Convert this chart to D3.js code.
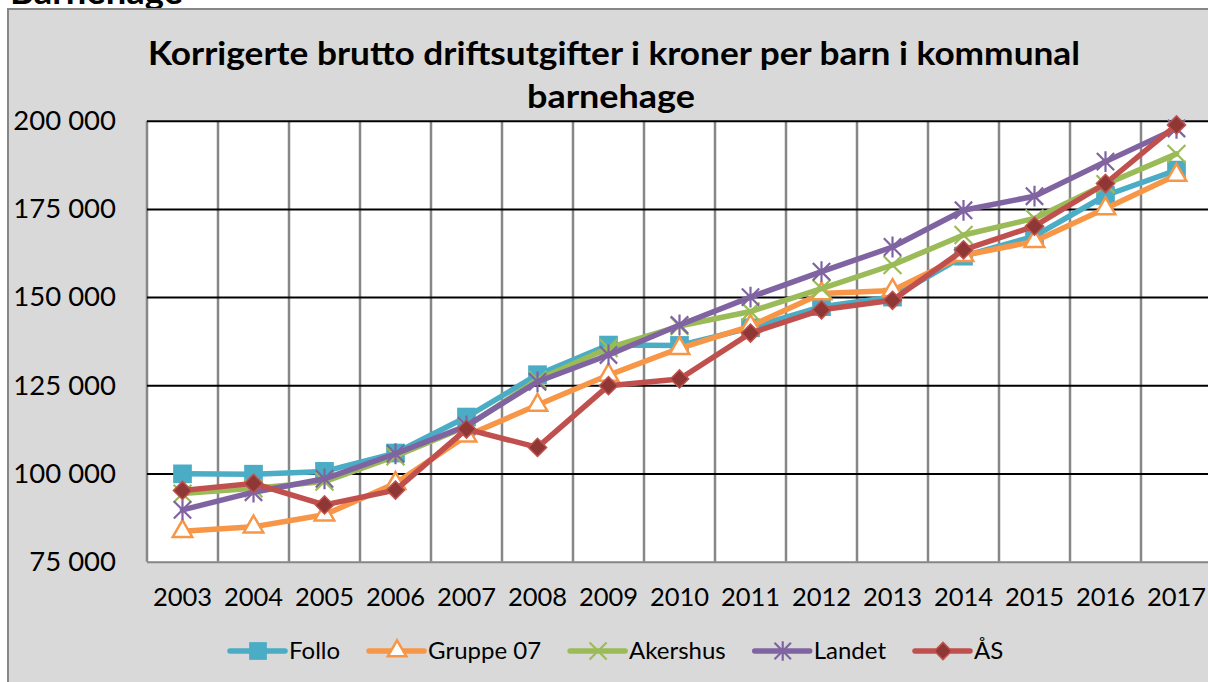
<!DOCTYPE html>
<html>
<head>
<meta charset="utf-8">
<script src="https://cdn.jsdelivr.net/npm/d3@7"></script>
<style>
  body { margin: 0; background: #fff; }
  text { font-family: Lato, "Open Sans", sans-serif; fill: #000; }
</style>
</head>
<body>
<script>
// data
const years = ["2003","2004","2005","2006","2007","2008","2009","2010","2011","2012","2013","2014","2015","2016","2017"];
const follo    = [99900, 99800, 100600, 105800, 116000, 128000, 136400, 136300, 141300, 147300, 150000, 161600, 167300, 178800, 186000];
const gruppe07 = [83600, 84900, 88300, 97200, 110700, 119400, 127900, 135500, 141800, 151000, 151900, 161800, 165800, 175100, 184600];
const akershus = [94300, 95800, 97700, 104900, 113300, 126600, 135600, 141800, 145900, 152400, 159100, 167600, 172300, 182000, 190600];
const landet   = [89700, 94700, 98500, 105600, 113500, 126000, 133600, 142100, 150000, 157200, 164200, 174600, 178600, 188400, 197800];
const aas      = [95200, 97200, 91100, 95300, 112600, 107400, 124900, 126800, 139800, 146400, 149100, 163400, 170100, 182200, 198800];
const seriesNames = ["Follo", "Gruppe 07", "Akershus", "Landet", "ÅS"];
const yTicks = [75000, 100000, 125000, 150000, 175000, 200000];
const titleLines = ["Korrigerte brutto driftsutgifter i kroner per barn i kommunal", "barnehage"];

const width = 1208, height = 682;
const plot = {left: 147, top: 120.7, bottom: 561.7, step: 71};

const svg = d3.select("body").append("svg")
  .attr("width", width)
  .attr("height", height);

// leftover heading from the page above, mostly hidden
svg.append("text")
  .attr("x", 10).attr("y", 4)
  .attr("font-size", 34).attr("font-weight", "bold")
  .attr("textLength", 173).attr("lengthAdjust", "spacingAndGlyphs")
  .text("Barnehage");

// chart area
svg.append("rect")
  .attr("x", 8).attr("y", 9)
  .attr("width", width + 20).attr("height", height + 20)
  .attr("fill", "#d9d9d9")
  .attr("stroke", "#878787")
  .attr("stroke-width", 2);

const xBand = d3.scaleBand()
  .domain(years)
  .range([plot.left, plot.left + plot.step * years.length]);
const xPos = d => xBand(d) + xBand.bandwidth() / 2;
const yScale = d3.scaleLinear()
  .domain([75000, 200000])
  .range([plot.bottom, plot.top]);

svg.append("rect")
  .attr("x", plot.left).attr("y", plot.top)
  .attr("width", plot.step * years.length).attr("height", plot.bottom - plot.top)
  .attr("fill", "#fff");

// vertical grid at category edges
svg.append("g").selectAll("line")
  .data(years)
  .join("line")
    .attr("x1", d => xBand(d)).attr("x2", d => xBand(d))
    .attr("y1", plot.top).attr("y2", plot.bottom)
    .attr("stroke", "#878787")
    .attr("stroke-width", 2.5);

const locale = d3.formatLocale({decimal: ",", thousands: " ", grouping: [3], currency: ["", ""]});
const fmt = locale.format(",");

// horizontal grid + y labels
const yAxis = svg.append("g")
  .attr("transform", `translate(${plot.left},0)`)
  .call(d3.axisLeft(yScale).tickValues(yTicks).tickFormat(fmt)
    .tickSize(-plot.step * years.length).tickPadding(31));
yAxis.select(".domain").remove();
yAxis.selectAll(".tick line")
  .attr("stroke", d => d === 75000 ? "#878787" : "#000")
  .attr("stroke-width", 2);
yAxis.selectAll(".tick text")
  .attr("font-size", 27.5)
  .attr("font-family", "Lato, sans-serif")
  .attr("fill", "#000");

// x labels
const xAxis = svg.append("g")
  .attr("transform", `translate(0,${plot.bottom})`)
  .call(d3.axisBottom(xBand).tickSize(0).tickPadding(26));
xAxis.select(".domain").remove();
xAxis.selectAll(".tick text")
  .attr("font-size", 25.5)
  .attr("font-family", "Lato, sans-serif")
  .attr("fill", "#000");

// title
svg.append("g").selectAll("text")
  .data(titleLines)
  .join("text")
    .attr("x", (d, i) => i === 0 ? 148 : 527)
    .attr("y", (d, i) => 65 + i * 43)
    .attr("font-size", 32)
    .attr("font-weight", "bold")
    .attr("textLength", (d, i) => i === 0 ? 932 : 168)
    .attr("lengthAdjust", "spacingAndGlyphs")
    .text(d => d);

// custom markers
const symbolX = {
  draw(ctx, size) {
    const r = Math.sqrt(size) / 2;
    ctx.moveTo(-r, -r); ctx.lineTo(r, r);
    ctx.moveTo(-r, r); ctx.lineTo(r, -r);
  }
};
const symbolStar = {
  draw(ctx, size) {
    const r = Math.sqrt(size) / 2;
    ctx.moveTo(-r, -r); ctx.lineTo(r, r);
    ctx.moveTo(-r, r); ctx.lineTo(r, -r);
    ctx.moveTo(0, -r * 1.2); ctx.lineTo(0, r * 1.2);
  }
};

const series = [
  {name: seriesNames[0], values: follo, color: "#4bacc6",
   type: d3.symbolSquare, size: 350, fill: "#4bacc6", stroke: "none", sw: 0, rot: 0},
  {name: seriesNames[1], values: gruppe07, color: "#f79646",
   type: d3.symbolTriangle, size: 165, fill: "#fff", stroke: "#f79646", sw: 2.5, rot: 0},
  {name: seriesNames[2], values: akershus, color: "#9bbb59",
   type: symbolX, size: 320, fill: "none", stroke: "#9bbb59", sw: 2.2, rot: 0},
  {name: seriesNames[3], values: landet, color: "#8064a2",
   type: symbolStar, size: 300, fill: "none", stroke: "#8064a2", sw: 2.2, rot: 0},
  {name: seriesNames[4], values: aas, color: "#c0504d",
   type: d3.symbolSquare, size: 165, fill: "#8f3734", stroke: "#c0504d", sw: 1.5, rot: 45}
];

const line = d3.line()
  .x((d, i) => xPos(years[i]))
  .y(d => yScale(d));

series.forEach(s => {
  const g = svg.append("g");
  g.append("path")
    .datum(s.values)
    .attr("fill", "none")
    .attr("stroke", s.color)
    .attr("stroke-width", 5.5)
    .attr("stroke-linejoin", "round")
    .attr("stroke-linecap", "round")
    .attr("d", line);
  g.selectAll("path.m")
    .data(s.values)
    .join("path")
      .attr("class", "m")
      .attr("transform", (d, i) => `translate(${xPos(years[i])},${yScale(d)}) rotate(${s.rot})`)
      .attr("d", d3.symbol().type(s.type).size(s.size))
      .attr("fill", s.fill)
      .attr("stroke", s.stroke)
      .attr("stroke-width", s.sw);
});

// legend
const legend = svg.append("g").attr("transform", "translate(0,651)");
let lx = 230;
series.forEach(s => {
  const item = legend.append("g").attr("transform", `translate(${lx},0)`);
  item.append("line")
    .attr("x1", 0).attr("x2", 55)
    .attr("stroke", s.color).attr("stroke-width", 5.5)
    .attr("stroke-linecap", "round");
  item.append("path")
    .attr("transform", `translate(28,0) rotate(${s.rot})`)
    .attr("d", d3.symbol().type(s.type).size(s.size * 0.9))
    .attr("fill", s.fill)
    .attr("stroke", s.stroke)
    .attr("stroke-width", s.sw);
  const t = item.append("text")
    .attr("x", 59).attr("dy", "0.35em")
    .attr("font-size", 24)
    .text(s.name);
  lx += 59 + t.node().getComputedTextLength() + 29;
});
</script>
</body>
</html>
